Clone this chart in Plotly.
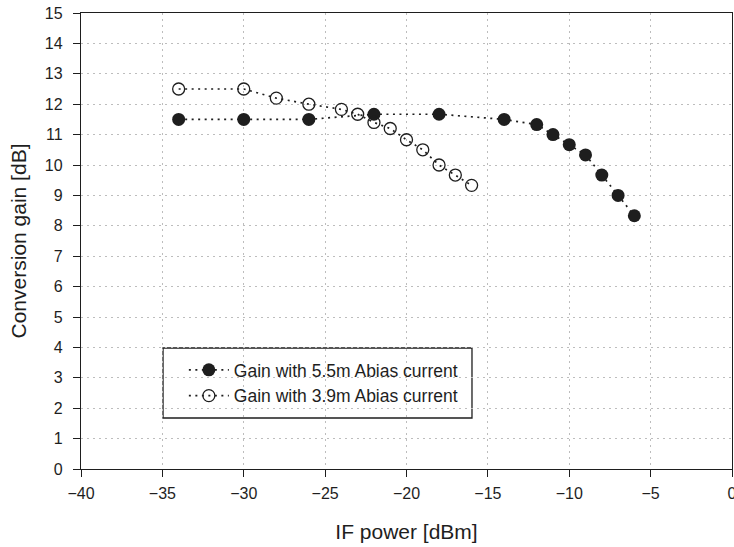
import plotly.graph_objects as go

x_55 = [-34, -30, -26, -22, -18, -14, -12, -11, -10, -9, -8, -7, -6]
y_55 = [11.5, 11.5, 11.5, 11.67, 11.67, 11.5, 11.33, 11.0, 10.67, 10.33, 9.67, 9.0, 8.33]
x_39 = [-34, -30, -28, -26, -24, -23, -22, -21, -20, -19, -18, -17, -16]
y_39 = [12.5, 12.5, 12.2, 12.0, 11.83, 11.67, 11.4, 11.2, 10.83, 10.5, 10.0, 9.67, 9.33]
name_55 = "Gain with 5.5m Abias current"
name_39 = "Gain with 3.9m Abias current"
x_ticks = [-40, -35, -30, -25, -20, -15, -10, -5, 0]
y_ticks = list(range(0, 16))

FONT = "Liberation Sans, Arial, Helvetica, sans-serif"
INK = "#1e1e1e"
DOTS = "2px,4.5px"

fig = go.Figure()
fig.add_trace(go.Scatter(
    x=x_55, y=y_55, name=name_55, mode="lines+markers",
    line=dict(color=INK, width=1.7, dash=DOTS),
    marker=dict(symbol="circle", size=13, color=INK),
))
fig.add_trace(go.Scatter(
    x=x_39, y=y_39, name=name_39, mode="lines+markers",
    line=dict(color=INK, width=1.7, dash=DOTS),
    marker=dict(symbol="circle-open", size=12, color=INK, line=dict(width=1.3)),
))

axis_common = dict(
    showline=True, linecolor=INK, linewidth=1.3, mirror=True,
    ticks="outside", ticklen=7, tickcolor=INK, tickwidth=1.3,
    showgrid=True, gridcolor="#bdbdbd", gridwidth=1, griddash="2px,4px",
    zeroline=False, automargin=False, ticklabeloverflow="allow",
    tickfont=dict(family=FONT, size=16, color=INK),
)
fig.update_xaxes(range=[-40, 0], tickvals=x_ticks, ticklabelstandoff=3, **axis_common,
                 title=dict(text="IF power [dBm]", font=dict(family=FONT, size=21, color=INK), standoff=22))
fig.update_yaxes(range=[0, 15], tickvals=y_ticks, ticklabelstandoff=7, **axis_common,
                 title=dict(text="Conversion gain [dB]", font=dict(family=FONT, size=21, color=INK), standoff=12))

# legend frame
fig.add_shape(type="rect", xref="paper", yref="paper",
              x0=0.126, x1=0.6006, y0=0.1118, y1=0.2654,
              line=dict(color=INK, width=1.3), fillcolor="white", layer="below")

fig.update_layout(
    width=734, height=547,
    margin=dict(l=81, r=2, t=13, b=78),
    plot_bgcolor="white", paper_bgcolor="white",
    font=dict(family=FONT, color=INK),
    showlegend=True,
    legend=dict(
        x=0.158, y=0.2566, xanchor="left", yanchor="top",
        bgcolor="rgba(0,0,0,0)", borderwidth=0,
        font=dict(family=FONT, size=17.5, color=INK),
        tracegroupgap=0, itemwidth=40,
    ),
)

fig.write_html("out.html", config={"displayModeBar": False},
               post_script="document.body.style.margin='0';document.body.style.overflow='hidden';")
